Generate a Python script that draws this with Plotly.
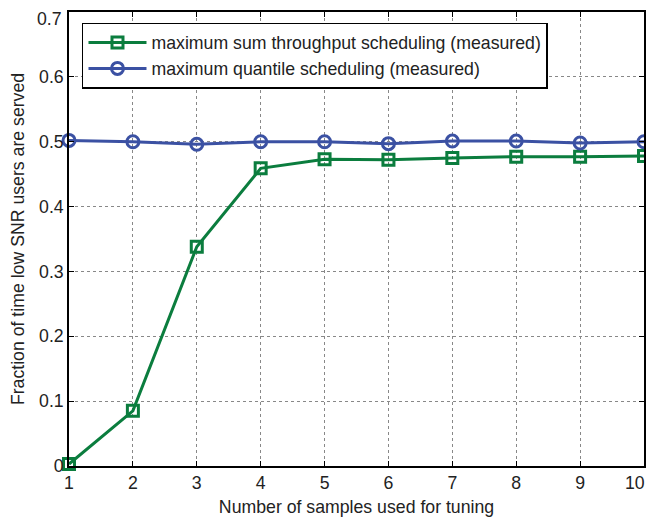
import plotly.graph_objects as go

samples = [1, 2, 3, 4, 5, 6, 7, 8, 9, 10]
sum_throughput = [0.003, 0.085, 0.338, 0.459, 0.473, 0.472, 0.475, 0.477, 0.477, 0.478]
quantile = [0.502, 0.500, 0.496, 0.500, 0.500, 0.497, 0.501, 0.501, 0.498, 0.500]
x_ticks = [1, 2, 3, 4, 5, 6, 7, 8, 9, 10]
x_labels = ["1", "2", "3", "4", "5", "6", "7", "8", "9", "10"]
y_ticks = [0, 0.1, 0.2, 0.3, 0.4, 0.5, 0.6, 0.7]
y_labels = ["0", "0.1", "0.2", "0.3", "0.4", "0.5", "0.6", "0.7"]

green = "#0b7d3e"
blue = "#3b51a3"
FONT = "Liberation Sans, Arial"
FS = 17.7

# the page body has an 8px margin: the figure starts at (8, 8)
OFF = 8

fig = go.Figure()
fig.add_trace(go.Scatter(
    x=samples, y=sum_throughput, mode="lines+markers",
    name="maximum sum throughput scheduling (measured)",
    line=dict(color=green, width=3),
    marker=dict(symbol="square-open", size=11, color=green, line=dict(width=3, color=green)),
    cliponaxis=False,
))
fig.add_trace(go.Scatter(
    x=samples, y=quantile, mode="lines+markers",
    name="maximum quantile scheduling (measured)",
    line=dict(color=blue, width=3),
    marker=dict(symbol="circle-open", size=12, color=blue, line=dict(width=3, color=blue)),
    cliponaxis=False,
))

axis_common = dict(
    showline=True, linecolor="black", linewidth=1.5, mirror="ticks",
    ticks="inside", ticklen=5, tickcolor="black",
    showgrid=True, gridcolor="#888", griddash="dot", gridwidth=1,
    zeroline=False, automargin=False, ticklabeloverflow="allow",
    tickfont=dict(family=FONT, size=FS, color="#222"),
)

# the end tick labels would be cut at the page edges, so they are drawn as
# annotations nudged just inside the visible area
shown_y = y_labels[:-1] + [""]
shown_x = x_labels[:-1] + [""]

fig.update_layout(
    width=654 - OFF, height=517 - OFF,
    margin=dict(l=69 - OFF, r=10, t=12 - OFF, b=51),
    paper_bgcolor="white", plot_bgcolor="white",
    font=dict(family=FONT, size=FS, color="#222"),
    showlegend=True,
    legend=dict(
        x=0.0226, y=0.976, xanchor="left", yanchor="top",
        bgcolor="white", bordercolor="black", borderwidth=1.5,
        font=dict(family=FONT, size=FS, color="#222"),
        tracegroupgap=0, itemwidth=58,
    ),
    xaxis=dict(
        range=[1, 10], tickvals=x_ticks, ticktext=shown_x,
        title=dict(text="Number of samples used for tuning", standoff=9,
                   font=dict(family=FONT, size=FS)),
        **axis_common,
    ),
    yaxis=dict(
        range=[0, 0.7], tickvals=y_ticks, ticktext=shown_y,
        title=dict(text="Fraction of time low SNR users are served", standoff=15,
                   font=dict(family=FONT, size=FS)),
        **axis_common,
    ),
    annotations=[
        dict(
            text=y_labels[-1], xref="paper", yref="y", x=0, y=y_ticks[-1],
            xanchor="right", yanchor="top", xshift=-5, yshift=5, showarrow=False,
            font=dict(family=FONT, size=FS, color="#222"),
        ),
        dict(
            text=x_labels[-1], xref="x", yref="paper", x=x_ticks[-1], y=0,
            xanchor="right", yanchor="top", xshift=3, yshift=-5, showarrow=False,
            font=dict(family=FONT, size=FS, color="#222"),
        ),
    ],
)

fig.write_html("out.html")
